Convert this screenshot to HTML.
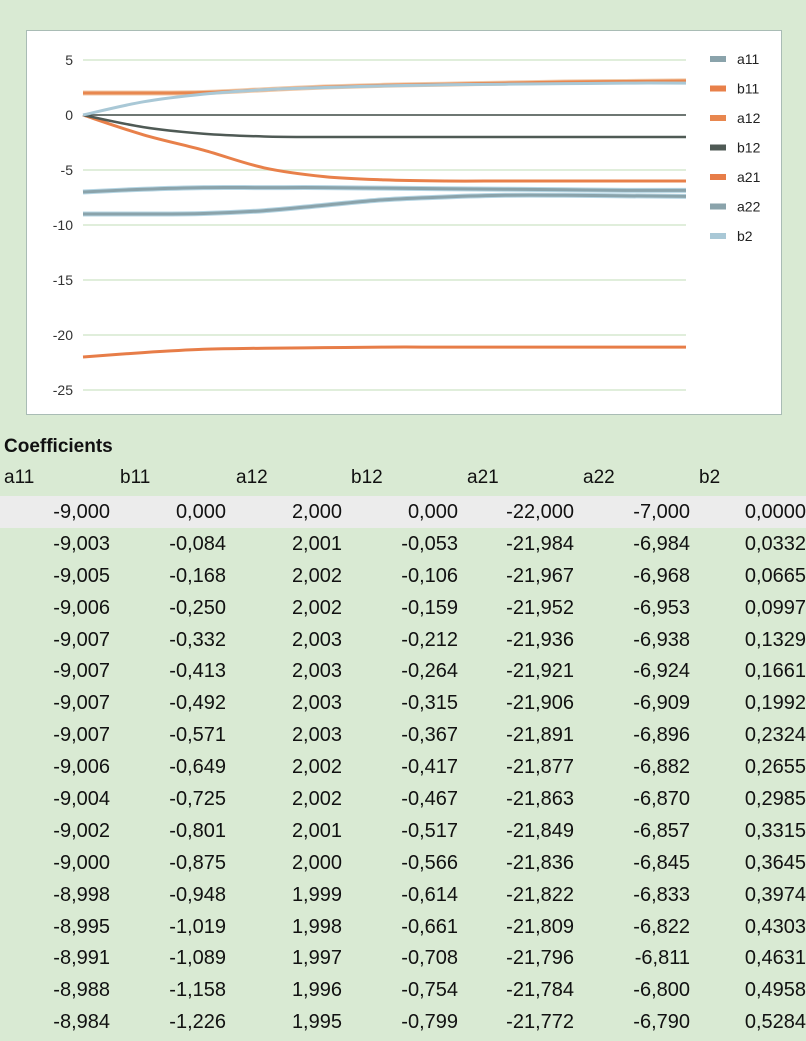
<!DOCTYPE html>
<html><head><meta charset="utf-8">
<style>
html,body{margin:0;padding:0;}
body{width:806px;height:1041px;overflow:hidden;background:#d9ead3;font-family:"Liberation Sans",sans-serif;position:relative;}
#chart{position:absolute;left:26px;top:30px;width:756px;height:385px;background:#fff;border:1px solid #a9bcb5;box-sizing:border-box;}
#title{position:absolute;left:4px;top:436px;font-weight:bold;font-size:19px;color:#111;}
#hdr{position:absolute;left:0;top:467px;width:806px;height:26px;font-size:19px;color:#111;}
#hdr span{position:absolute;top:0;}
table{position:absolute;left:0;top:496px;border-collapse:collapse;font-size:20px;color:#111;table-layout:fixed;width:812px;}
td{width:116px;height:31.9px;padding:0;text-align:right;box-sizing:border-box;padding-right:6px;line-height:20px;white-space:nowrap;}
tr.first td{background:#ececec;}
</style></head><body>
<div id="chart">
<svg id="svg" width="756" height="385"></svg>
</div>
<div id="title">Coefficients</div>
<div id="hdr">
<span style="left:4px">a11</span>
<span style="left:120px">b11</span>
<span style="left:236px">a12</span>
<span style="left:351px">b12</span>
<span style="left:467px">a21</span>
<span style="left:583px">a22</span>
<span style="left:699px">b2</span>
</div>
<table id="tbl"></table>
<script>
const NS="http://www.w3.org/2000/svg";
const yTicks=[5,0,-5,-10,-15,-20,-25];
const seriesNames=["a11","b11","a12","b12","a21","a22","b2"];
const a11=[-9,-9,-8.95,-8.7,-8.2,-7.7,-7.45,-7.3,-7.3,-7.35,-7.4];
const b11=[0,-1.8,-3.2,-4.8,-5.6,-5.9,-6.0,-6.0,-6.0,-6.0,-6.0];
const a12=[2,2,2.05,2.3,2.55,2.7,2.8,2.9,3.0,3.05,3.1];
const b12=[0,-1.1,-1.7,-1.95,-2,-2,-2,-2,-2,-2,-2];
const a21=[-22,-21.6,-21.3,-21.2,-21.15,-21.1,-21.1,-21.1,-21.1,-21.1,-21.1];
const a22=[-7,-6.75,-6.6,-6.6,-6.6,-6.65,-6.7,-6.75,-6.8,-6.85,-6.85];
const b2=[0,1.2,1.9,2.3,2.5,2.65,2.75,2.8,2.85,2.9,2.9];
const seriesData=[a11,b11,a12,b12,a21,a22,b2];
const colors=["#8aa3ab","#e8804a","#e8874f","#4f5a55","#e77d48","#8aa3ab","#a9c8d6"];
const halos=["#b5d5e3",null,"#f0c9a8",null,null,"#b5d5e3",null];
const X0=56,X1=659;
function xs(i,n){return X0+(X1-X0)*i/(n-1);}
function ys(v){return 84-11*v;}
const svg=document.getElementById('svg');
function mk(t,a){const e=document.createElementNS(NS,t);for(const k in a)e.setAttribute(k,a[k]);svg.appendChild(e);return e;}
yTicks.forEach(t=>{
 const g=mk('line',{x1:X0,x2:X1,y1:ys(t),y2:ys(t),stroke:t===0?'#3f4a45':'#d6e8cf','stroke-width':1.5});
 
 
 const l=mk('text',{x:46,y:ys(t)+5,'text-anchor':'end','font-size':14,fill:'#333','font-family':'Liberation Sans'});
 l.textContent=t;
 
 
});
function path(arr){
 const n=arr.length,p=arr.map((v,i)=>[xs(i,n),ys(v)]);
 let d=`M${p[0][0]},${p[0][1]}`;
 for(let i=0;i<n-1;i++){
  const p0=p[Math.max(0,i-1)],p1=p[i],p2=p[i+1],p3=p[Math.min(n-1,i+2)];
  d+=` C${p1[0]+(p2[0]-p0[0])/6},${p1[1]+(p2[1]-p0[1])/6} ${p2[0]-(p3[0]-p1[0])/6},${p2[1]-(p3[1]-p1[1])/6} ${p2[0]},${p2[1]}`;
 }
 return d;
}
seriesData.forEach((arr,k)=>{
 if(halos[k]){const h=mk('path',{d:path(arr),fill:'none',stroke:halos[k],'stroke-width':5});
  
  }
 const l=mk('path',{d:path(arr),fill:'none',stroke:colors[k],'stroke-width':k===3?2.5:3});
 
 
 const ly=28+29.5*k;
 const sw=mk('rect',{x:683,y:ly-3,width:16,height:6,fill:colors[k]});
 
 
 const t=mk('text',{x:710,y:ly+5,'font-size':14,fill:'#222','font-family':'Liberation Sans'});
 t.textContent=seriesNames[k];
 
 
});
const rows=[
["-9,000","0,000","2,000","0,000","-22,000","-7,000","0,0000"],
["-9,003","-0,084","2,001","-0,053","-21,984","-6,984","0,0332"],
["-9,005","-0,168","2,002","-0,106","-21,967","-6,968","0,0665"],
["-9,006","-0,250","2,002","-0,159","-21,952","-6,953","0,0997"],
["-9,007","-0,332","2,003","-0,212","-21,936","-6,938","0,1329"],
["-9,007","-0,413","2,003","-0,264","-21,921","-6,924","0,1661"],
["-9,007","-0,492","2,003","-0,315","-21,906","-6,909","0,1992"],
["-9,007","-0,571","2,003","-0,367","-21,891","-6,896","0,2324"],
["-9,006","-0,649","2,002","-0,417","-21,877","-6,882","0,2655"],
["-9,004","-0,725","2,002","-0,467","-21,863","-6,870","0,2985"],
["-9,002","-0,801","2,001","-0,517","-21,849","-6,857","0,3315"],
["-9,000","-0,875","2,000","-0,566","-21,836","-6,845","0,3645"],
["-8,998","-0,948","1,999","-0,614","-21,822","-6,833","0,3974"],
["-8,995","-1,019","1,998","-0,661","-21,809","-6,822","0,4303"],
["-8,991","-1,089","1,997","-0,708","-21,796","-6,811","0,4631"],
["-8,988","-1,158","1,996","-0,754","-21,784","-6,800","0,4958"],
["-8,984","-1,226","1,995","-0,799","-21,772","-6,790","0,5284"]];
const tbl=document.getElementById('tbl');
rows.forEach((r,i)=>{
 const tr=document.createElement('tr');
 if(i===0)tr.className='first';
 
 
 r.forEach((c,j)=>{const td=document.createElement('td');td.textContent=c;
  if(j===6)td.style.paddingRight='6px';
  
  
  tr.appendChild(td);});
 tbl.appendChild(tr);
});
</script>
</body></html>
